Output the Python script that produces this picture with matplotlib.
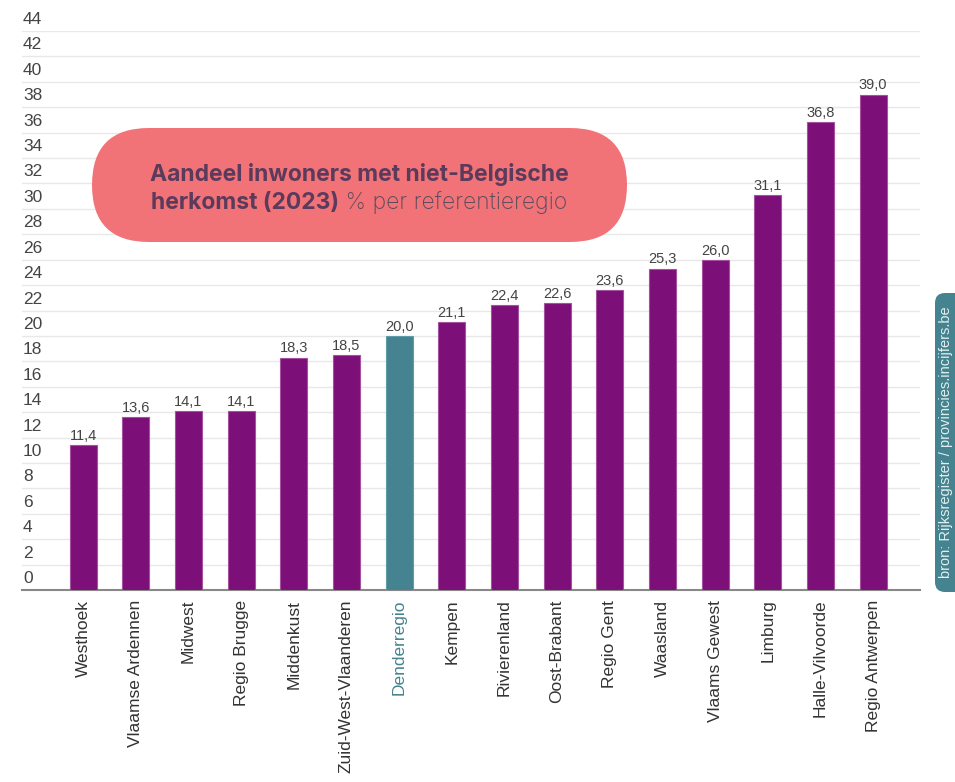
import numpy as np
import matplotlib.pyplot as plt
from matplotlib.patches import FancyBboxPatch
from matplotlib import transforms

regions = ['Westhoek', 'Vlaamse Ardennen', 'Midwest', 'Regio Brugge', 'Middenkust',
           'Zuid-West-Vlaanderen', 'Denderregio', 'Kempen', 'Rivierenland', 'Oost-Brabant',
           'Regio Gent', 'Waasland', 'Vlaams Gewest', 'Limburg', 'Halle-Vilvoorde',
           'Regio Antwerpen']
values = [11.4, 13.6, 14.1, 14.1, 18.3, 18.5, 20.0, 21.1, 22.4, 22.6, 23.6, 25.3,
          26.0, 31.1, 36.8, 39.0]
highlight = 'Denderregio'
yticks = list(range(0, 46, 2))

purple = '#7d0f78'
teal = '#44838f'

plt.rcParams['font.family'] = ['Liberation Sans', 'DejaVu Sans']

fig = plt.figure(figsize=(9.55, 7.82), dpi=100)
W, H = 955, 782
ax = fig.add_axes([22 / W, 1 - 590 / H, (920 - 22) / W, (590 - 31) / H])

x = np.arange(len(regions))
colors = [teal if r == highlight else purple for r in regions]
edges = ['#5f9ea9' if r == highlight else '#a452a0' for r in regions]
ax.bar(x, values, width=0.51, color=colors, edgecolor=edges, linewidth=0.8, zorder=3)

for xi, v in zip(x, values):
    ax.annotate(f'{v:.1f}'.replace('.', ','), (xi, v), xytext=(0, 1.5),
                textcoords='offset points', ha='center', va='bottom',
                fontsize=10.5, color='#444444', zorder=4)

ax.set_xlim(-1.16, len(regions) - 0.11)
ax.set_ylim(0, 44)
ax.set_yticks(yticks)
ax.set_yticklabels([])
ax.tick_params(axis='y', length=0)
ax.grid(axis='y', color='#e8e8e8', linewidth=1, zorder=0)

# y labels sit just above their grid line
off = transforms.ScaledTranslation(1 / 100, 4 / 100, fig.dpi_scale_trans)
for t in yticks:
    ax.text(0, t, str(t), transform=ax.get_yaxis_transform() + off,
            ha='left', va='bottom', fontsize=12.5, color='#444444')

ax.set_xticks(x)
ax.set_xticklabels(regions, rotation=90, fontsize=12.5, color='#333333')
for lbl in ax.get_xticklabels():
    if lbl.get_text() == highlight:
        lbl.set_color(teal)
ax.tick_params(axis='x', length=0, pad=7)

for s in ['top', 'right', 'left']:
    ax.spines[s].set_visible(False)
ax.spines['bottom'].set_color('#888888')
ax.spines['bottom'].set_linewidth(1.5)

# overlay in pixel coordinates for the title pill and the source tab
ov = fig.add_axes([0, 0, 1, 1], zorder=5)
ov.set_xlim(0, W)
ov.set_ylim(H, 0)
ov.axis('off')
ov.patch.set_alpha(0)

px0, px1, py0, py1 = 92, 627, 128, 242
r = (py1 - py0) / 2
ov.add_patch(FancyBboxPatch((px0, py0), px1 - px0, py1 - py0,
                            boxstyle=f'round,pad=0,rounding_size={r}',
                            facecolor='#f27377', edgecolor='none'))

title_color = '#5b3a5c'
tfont = ['Inter', 'DejaVu Sans']
cx = (px0 + px1) / 2
ov.text(cx, 175, 'Aandeel inwoners met niet-Belgische', ha='center', va='center',
        fontsize=16.5, fontweight='bold', family=tfont, color=title_color)
t2 = ov.text(cx, 203, 'herkomst (2023)', ha='left', va='center',
             fontsize=16.5, fontweight='bold', family=tfont, color=title_color)
t3 = ov.annotate(' % per referentieregio', xy=(1, 0), xycoords=t2, va='bottom', ha='left',
                 fontsize=16.5, family=tfont, fontweight='light', color='#5a4a5c',
                 annotation_clip=False)
# center the mixed-weight second line
fig.canvas.draw()
rend = fig.canvas.get_renderer()
w_line = t2.get_window_extent(rend).width + t3.get_window_extent(rend).width
t2.set_x(cx - w_line / 2)

ov.add_patch(FancyBboxPatch((935, 293), 40, 592 - 293,
                            boxstyle='round,pad=0,rounding_size=10',
                            facecolor=teal, edgecolor='none', clip_on=False))
ov.text(946, 442, 'bron: Rijksregister / provincies.incijfers.be', rotation=90,
        ha='center', va='center', fontsize=10.5, color='#e2eeef')

fig.savefig('out.png', dpi=100)
